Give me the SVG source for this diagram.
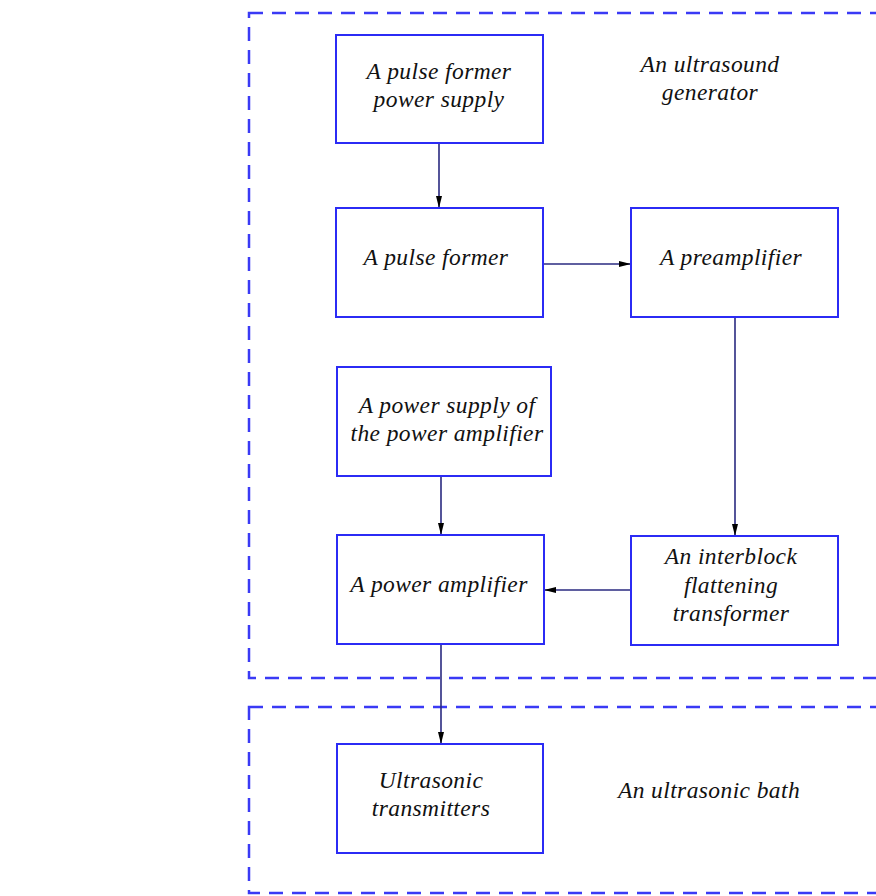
<svg xmlns="http://www.w3.org/2000/svg" width="876" height="896" viewBox="0 0 876 896">
<style>
.box{fill:#fff;stroke:#2b2bf5;stroke-width:2}
.group{fill:none;stroke:#3a3af5;stroke-width:2.5;stroke-dasharray:14 9}
.lbl{font-family:"Liberation Serif","DejaVu Serif",serif;font-style:italic;font-size:23.5px;letter-spacing:0.4px;fill:#111;text-anchor:middle}
.conn{stroke:#2a2a80;stroke-width:1.6;fill:none;marker-end:url(#arr)}
</style>
<defs>
<marker id="arr" viewBox="0 0 12 7" refX="12" refY="3.5" markerWidth="12" markerHeight="7" markerUnits="userSpaceOnUse" orient="auto">
<path d="M0,0.5 L12,3.5 L0,6.5 Z" fill="#000"/>
</marker>
</defs>
<rect width="876" height="896" fill="#fff"/>
<g id="generator">
<rect class="group" x="249" y="13" width="660" height="665"/>
<text class="lbl" x="710" y="72">An ultrasound</text>
<text class="lbl" x="710" y="100">generator</text>
</g>
<g id="bath">
<rect class="group" x="249" y="707" width="660" height="186"/>
<text class="lbl" x="709" y="798">An ultrasonic bath</text>
</g>
<g id="connectors">
<line class="conn" x1="439" y1="143" x2="439" y2="208"/>
<line class="conn" x1="543" y1="264" x2="631" y2="264"/>
<line class="conn" x1="735" y1="317" x2="735" y2="536"/>
<line class="conn" x1="441" y1="476" x2="441" y2="535"/>
<line class="conn" x1="631" y1="590" x2="544" y2="590"/>
<line class="conn" x1="441" y1="644" x2="441" y2="744"/>
</g>
<g id="pulse-former-power-supply">
<rect class="box" x="336" y="35" width="207" height="108"/>
<text class="lbl" x="439" y="79">A pulse former</text>
<text class="lbl" x="439" y="107">power supply</text>
</g>
<g id="pulse-former">
<rect class="box" x="336" y="208" width="207" height="109"/>
<text class="lbl" x="436" y="265">A pulse former</text>
</g>
<g id="preamplifier">
<rect class="box" x="631" y="208" width="207" height="109"/>
<text class="lbl" x="731" y="265">A preamplifier</text>
</g>
<g id="power-amp-supply">
<rect class="box" x="337" y="367" width="214" height="109"/>
<text class="lbl" x="447" y="413">A power supply of</text>
<text class="lbl" x="447" y="441">the power amplifier</text>
</g>
<g id="power-amplifier">
<rect class="box" x="337" y="535" width="207" height="109"/>
<text class="lbl" x="439" y="592">A power amplifier</text>
</g>
<g id="interblock-transformer">
<rect class="box" x="631" y="536" width="207" height="109"/>
<text class="lbl" x="731" y="564">An interblock</text>
<text class="lbl" x="731" y="593">flattening</text>
<text class="lbl" x="731" y="621">transformer</text>
</g>
<g id="ultrasonic-transmitters">
<rect class="box" x="337" y="744" width="206" height="109"/>
<text class="lbl" x="431" y="788">Ultrasonic</text>
<text class="lbl" x="431" y="816">transmitters</text>
</g>
</svg>
